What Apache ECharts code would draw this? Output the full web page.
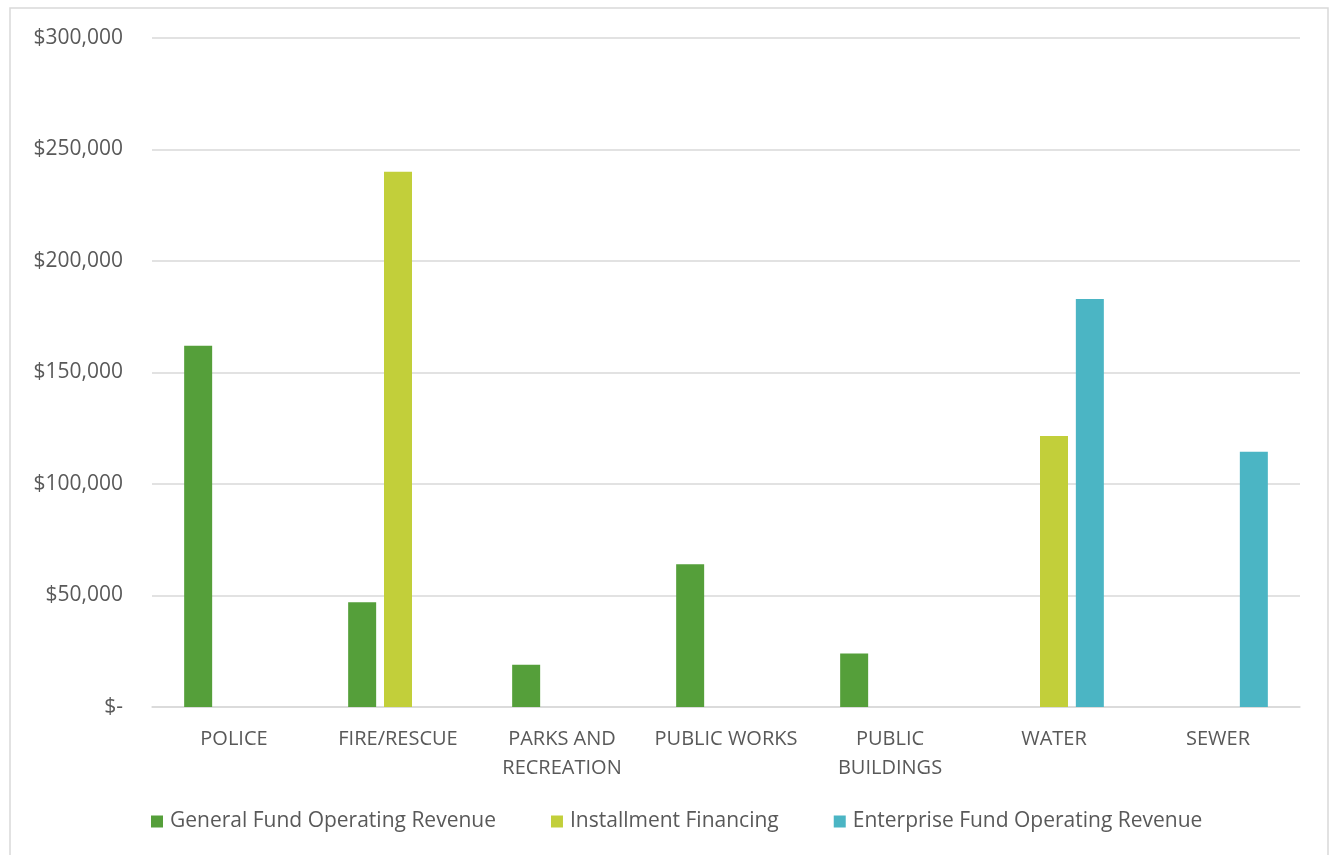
<!doctype html>
<html>
<head>
	<meta charset="UTF-8">
	<title>Capital Funding by Department</title>
	<script src="https://cdn.jsdelivr.net/npm/echarts@6/dist/echarts.min.js"></script>
	<style>
		html, body {
			margin: 0;
			padding: 0;
			background: #ffffff;
		}
		#chart {
			width: 1332px;
			height: 855px;
		}
	</style>
</head>
<body>
	<div id="chart"></div>
	<script type="text/javascript">
		// departments (x axis)
		var categories = ['POLICE', 'FIRE/RESCUE', 'PARKS AND\nRECREATION', 'PUBLIC WORKS', 'PUBLIC\nBUILDINGS', 'WATER', 'SEWER'];
		var seriesNames = ['General Fund Operating Revenue', 'Installment Financing', 'Enterprise Fund Operating Revenue'];
		// values, null = no bar
		var generalFund = [162000, 47000, 19000, 64000, 24000, null, null];
		var installment = [null, 240000, null, null, null, 121500, null];
		var enterpriseFund = [null, null, null, null, null, 183000, 114500];
		var yTicks = [0, 50000, 100000, 150000, 200000, 250000, 300000];

		var colors = ['#559f3a', '#c2cf3a', '#4bb5c4'];
		var fontName = 'Open Sans';

		function money(v) {
			if (v === 0) return '$-';
			return '$' + v.toLocaleString('en-US');
		}

		var seriesData = [generalFund, installment, enterpriseFund].map(function(arr, i) {
			return {
				name: seriesNames[i],
				type: 'bar',
				data: arr,
				barWidth: 28,
				barGap: '28%',
				itemStyle: { color: colors[i] }
			};
		});

		var chartOption = {
			animation: false,
			textStyle: { fontFamily: fontName },
			graphic: [{
				type: 'rect',
				shape: { x: 10, y: 8, width: 1318, height: 870 },
				style: { fill: 'none', stroke: '#d9d9d9', lineWidth: 1.5 },
				silent: true
			}],
			legend: {
				data: seriesNames,
				left: 146,
				top: 806,
				itemWidth: 12,
				itemHeight: 12,
				itemGap: 55,
				icon: 'rect',
				textStyle: { fontSize: 21, color: '#595959', fontFamily: fontName, padding: [0, 0, 0, 2] }
			},
			grid: {
				left: 152,
				right: 32,
				top: 38,
				bottom: 148,
				containLabel: false
			},
			xAxis: {
				type: 'category',
				data: categories,
				axisLine: { lineStyle: { color: '#d9d9d9', width: 1.5 } },
				axisTick: { show: false },
				axisLabel: {
					color: '#595959',
					fontSize: 20,
					margin: 18,
					lineHeight: 29,
					interval: 0
				}
			},
			yAxis: {
				type: 'value',
				min: yTicks[0],
				max: yTicks[yTicks.length - 1],
				interval: yTicks[1] - yTicks[0],
				axisLine: { show: false },
				axisTick: { show: false },
				splitLine: { lineStyle: { color: '#d9d9d9', width: 1.5 } },
				axisLabel: {
					color: '#595959',
					fontSize: 21,
					margin: 29,
					formatter: money
				}
			},
			series: seriesData
		};

		var barChart = echarts.init(document.getElementById('chart'));
		barChart.setOption(chartOption);
	</script>
</body>
</html>
